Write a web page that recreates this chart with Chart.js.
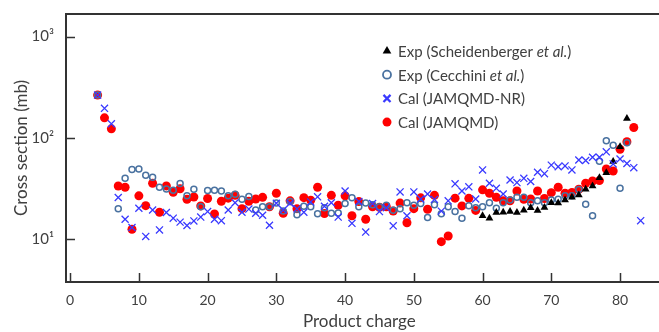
<!DOCTYPE html>
<html>
<head>
<meta charset="utf-8">
<script src="https://cdn.jsdelivr.net/npm/chart.js@4.4.1/dist/chart.umd.min.js"></script>
<style>
  body { margin: 0; background: #fff; }
  #wrap { position: relative; width: 659px; height: 332px; }
</style>
</head>
<body>
<div id="wrap"><canvas id="xsChart"></canvas></div>
<script>
// product charge Z = 4 ... 83, one value per charge (null = no point)
var firstCharge = 4;
var lastCharge = 83;

var scheidenberger = [
  null, null, null, null, null, null, null, null, null, null,   // 4-13
  null, null, null, null, null, null, null, null, null, null,   // 14-23
  null, null, null, null, null, null, null, null, null, null,   // 24-33
  null, null, null, null, null, null, null, null, null, null,   // 34-43
  null, null, null, null, null, null, null, null, null, null,   // 44-53
  null, null, null, null, null, null, 17.1, 16.2, 18.4, 18.5,   // 54-63
  18.8, 18.4, 19.4, 20.5, 19.3, 20.6, 23, 22.8, 24.5, 26,       // 64-73
  27.4, 31.2, 33.7, 40.6, 45.5, 58.5, 82, 156, null, null       // 74-83
];

var cecchini = [
  265, null, null, 20, 40, 49, 49.5, 43, 41, 32.7,
  31.4, 30.5, 35.5, 26.9, 31.3, 21, 30.3, 30.5, 30, 27,
  27.9, 24.9, 26.5, 19.5, 21, 21, 22.8, 19, 23.6, 17.5,
  21.2, 21, 17.9, 20.5, 18.1, 18.2, 22.6, 25.8, 21, 22.8,
  22, 21, 21.7, 19.4, 20, 23, 21.7, 22.6, 16.4, 22,
  17.9, 21, 18.8, 16.2, 21.5, 20.5, 21, 23, 20.3, 23,
  24.5, 26, 26, 23, 24, 23, 24.5, 24.9, 27, 27,
  31, 22.2, 17.1, 59, 94, 85, 31.9, 90, null, null
];

var jamqmdNR = [
  265, 196, 138, 25.9, 15.8, 13.1, 20.3, 10.7, 19.5, 12.4,
  18.4, 16.2, 14.8, 13.7, 15.2, 16.6, 18.8, 15.8, 15.3, 19.5,
  23, 18.5, 19.9, 18.1, 17.3, 13.8, 22.7, 19.5, 22.7, 20,
  18.5, 23.4, 26.3, 21.2, 23, 16.6, 30, 14.4, 23.6, 11.8,
  22.6, 18.8, 20.5, 13.6, 29.4, 17.1, 29.4, 25, 28, 24.8,
  19, 24, 35.3, 30, 33, 25, 48.4, 35.8, 31.9, 28,
  38.5, 36.3, 40, 37.2, 45.9, 44.5, 54, 52, 53, 48.4,
  60.7, 60, 64.6, 64.6, 73, 55.5, 62, 56, 51, 15.3
];

var jamqmd = [
  265, 158, 123, 33.6, 32.7, 12.6, 26.9, 21.5, 35.8, 18.5,
  33.7, 29.2, 31.6, 24.9, 26.2, 21.4, 25.3, 17.8, 23.8, 25.5,
  27.2, 20.1, 23.8, 25, 26, 21, 28.5, 18.1, 24, 20.1,
  25.8, 24.3, 32.7, 18, 27.2, 21.7, 26.9, 17.1, 23.6, 15.8,
  21, 20.7, 21, 19, 22.8, 14.6, 20.1, 25.7, 19.8, 27.2,
  9.5, 10.8, 25.5, 21.4, 25.4, 19.3, 30.8, 28.5, 26, 24,
  24, 30, 24.9, 25, 30, 25.3, 28.9, 32.7, 28.5, 29,
  31.2, 35.8, 37.7, 38, 49.5, 47.3, 77.5, 92, 127, null
];

var xTicks = [0, 10, 20, 30, 40, 50, 60, 70, 80];
var yTicks = [10, 100, 1000];
var yTickLabels = ['10\u00B9', '10\u00B2', '10\u00B3'];

function toPoints(values) {
  var pts = [];
  for (var i = 0; i < values.length; i++) {
    if (values[i] !== null) pts.push({ x: firstCharge + i, y: values[i] });
  }
  return pts;
}

var textColor = '#404040';
var axisColor = '#333333';
var fontName = 'Lato, "Open Sans", sans-serif';

// frame (left, top, bottom) and inward tick marks
const framePlugin = {
  id: 'frame',
  afterDraw(chart) {
    const ctx = chart.ctx;
    const a = chart.chartArea;
    const xs = chart.scales.x;
    const ys = chart.scales.y;
    ctx.save();
    ctx.strokeStyle = axisColor;
    ctx.lineWidth = 2;
    ctx.beginPath();
    ctx.moveTo(chart.width + 2, a.top);
    ctx.lineTo(a.left, a.top);
    ctx.lineTo(a.left, a.bottom);
    ctx.lineTo(chart.width + 2, a.bottom);
    ctx.stroke();
    ctx.lineWidth = 1.5;
    ctx.beginPath();
    xTicks.forEach((v) => {
      const px = Math.round(xs.getPixelForValue(v)) + 0.5;
      ctx.moveTo(px, a.bottom);
      ctx.lineTo(px, a.bottom - 9);
    });
    yTicks.forEach((v) => {
      const py = Math.round(ys.getPixelForValue(v)) + 0.5;
      ctx.moveTo(a.left, py);
      ctx.lineTo(a.left + 9, py);
    });
    ctx.stroke();
    ctx.restore();
  }
};

// legend with italic "et al."
const legendPlugin = {
  id: 'customLegend',
  afterDraw(chart) {
    const ctx = chart.ctx;
    const rows = [
      { ds: 0, parts: [['Exp (Scheidenberger ', false], ['et al.', true], [')', false]] },
      { ds: 1, parts: [['Exp (Cecchini ', false], ['et al.', true], [')', false]] },
      { ds: 2, parts: [['Cal (JAMQMD-NR)', false]] },
      { ds: 3, parts: [['Cal (JAMQMD)', false]] }
    ];
    const markX = 387;
    const textX = 398;
    let y = 51;
    ctx.save();
    rows.forEach((row) => {
      const d = chart.data.datasets[row.ds];
      ctx.fillStyle = d.backgroundColor;
      ctx.strokeStyle = d.borderColor;
      ctx.lineWidth = d.legendBorder;
      Chart.helpers.drawPoint(ctx, { pointStyle: d.pointStyle, radius: d.legendRadius, rotation: 0, borderWidth: d.legendBorder }, markX, y);
      let x = textX;
      ctx.fillStyle = textColor;
      ctx.textBaseline = 'middle';
      row.parts.forEach((p) => {
        ctx.font = (p[1] ? 'italic ' : '') + '15px ' + fontName;
        ctx.fillText(p[0], x, y + 1);
        x += ctx.measureText(p[0]).width;
      });
      y += 23.7;
    });
    ctx.restore();
  }
};

const ctx = document.getElementById('xsChart').getContext('2d');
new Chart(ctx, {
  type: 'scatter',
  data: {
    datasets: [
      {
        label: 'Exp (Scheidenberger et al.)',
        data: toPoints(scheidenberger),
        pointStyle: 'triangle',
        pointRadius: 4.5,
        backgroundColor: '#000000',
        borderColor: '#000000',
        borderWidth: 0,
        legendRadius: 5,
        legendBorder: 0,
        order: 1
      },
      {
        label: 'Exp (Cecchini et al.)',
        data: toPoints(cecchini),
        pointStyle: 'circle',
        pointRadius: 3,
        backgroundColor: 'rgba(0,0,0,0)',
        borderColor: '#4a72a0',
        borderWidth: 1.5,
        legendRadius: 4,
        legendBorder: 1.8,
        order: 2
      },
      {
        label: 'Cal (JAMQMD-NR)',
        data: toPoints(jamqmdNR),
        pointStyle: 'crossRot',
        pointRadius: 5,
        backgroundColor: '#3a3aff',
        borderColor: '#3a3aff',
        borderWidth: 1.3,
        legendRadius: 5,
        legendBorder: 2.2,
        order: 0
      },
      {
        label: 'Cal (JAMQMD)',
        data: toPoints(jamqmd),
        pointStyle: 'circle',
        pointRadius: 4.5,
        backgroundColor: '#ff0000',
        borderColor: '#ff0000',
        borderWidth: 0,
        legendRadius: 4.5,
        legendBorder: 0,
        order: 3
      }
    ]
  },
  options: {
    responsive: true,
    maintainAspectRatio: false,
    animation: false,
    layout: { padding: { top: 14, left: 0, right: 0, bottom: 0 } },
    plugins: {
      legend: { display: false },
      tooltip: { enabled: false }
    },
    scales: {
      x: {
        type: 'linear',
        min: -0.6,
        max: 84.75,
        afterBuildTicks: (s) => { s.ticks = xTicks.map((v) => ({ value: v })); },
        afterFit: (s) => { s.height = 50; },
        grid: { display: false },
        border: { display: false },
        ticks: {
          color: textColor,
          font: { family: fontName, size: 14 },
          padding: 2,
          maxRotation: 0
        },
        title: {
          display: true,
          text: 'Product charge',
          color: textColor,
          font: { family: fontName, size: 17 },
          padding: { top: 0, bottom: 0 }
        }
      },
      y: {
        type: 'logarithmic',
        min: 3.8,
        max: 1670,
        afterBuildTicks: (s) => { s.ticks = yTicks.map((v) => ({ value: v })); },
        afterFit: (s) => { s.width = 66; },
        grid: { display: false },
        border: { display: false },
        ticks: {
          color: textColor,
          font: { family: fontName, size: 15 },
          padding: 4,
          callback: (v) => yTickLabels[yTicks.indexOf(v)]
        },
        title: {
          display: true,
          text: 'Cross section (mb)',
          color: textColor,
          font: { family: fontName, size: 17 },
          padding: { top: 11, bottom: 0 }
        }
      }
    }
  },
  plugins: [framePlugin, legendPlugin]
});
</script>
</body>
</html>
